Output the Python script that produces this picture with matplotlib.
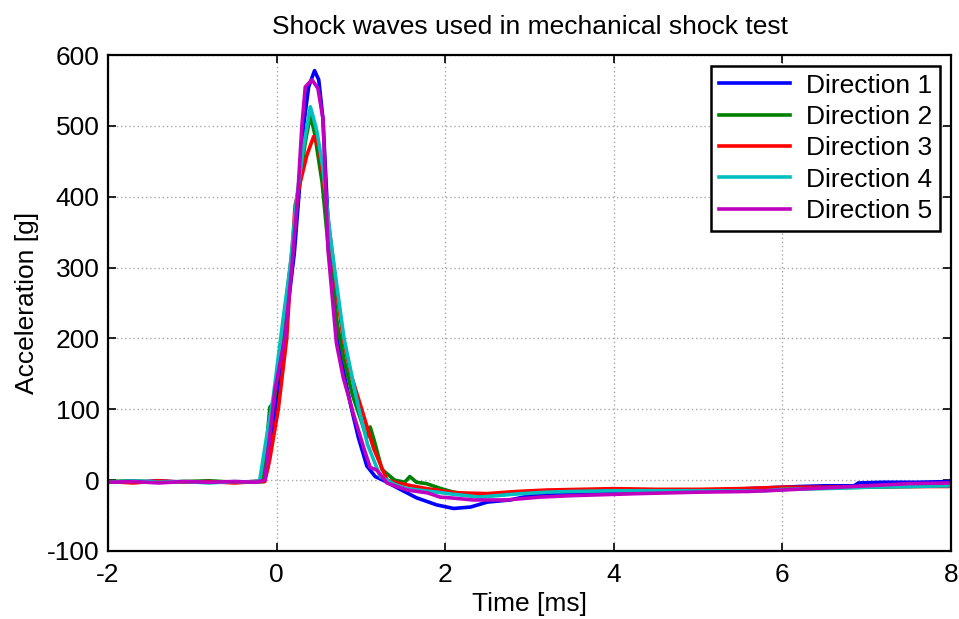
import matplotlib
matplotlib.use("Agg")
import matplotlib.pyplot as plt

plt.rcParams["font.family"] = ["Liberation Sans", "DejaVu Sans"]
plt.rcParams["axes.unicode_minus"] = False

# ---- data ------------------------------------------------------------------
t1 = [-2.0, -1.7, -1.4, -1.1, -0.8, -0.5, -0.25, -0.15, -0.1, -0.02, 0.06, 0.14,
      0.21, 0.27, 0.32, 0.38, 0.45, 0.5, 0.55, 0.63, 0.73, 0.8, 0.88, 0.97,
      1.07, 1.17, 1.26, 1.45, 1.66, 1.9, 2.1, 2.3, 2.5, 2.77, 3.0, 3.4, 3.8,
      4.2, 4.6, 5.0, 5.4, 5.8, 6.2, 6.5, 6.85, 6.9, 7.2, 7.6, 8.0]
v1 = [-2, -3, -1, -3, -2, -3, -2, -2, 20, 95, 175, 250, 320, 410, 500, 555,
      578, 565, 510, 317, 200, 150, 105, 60, 20, 5, 0, -12, -25, -35, -40,
      -38, -31, -28, -22, -19, -17, -17, -16, -15, -13, -11, -9, -8, -8, -4,
      -3, -3, -2]

t2 = [-2.0, -1.7, -1.4, -1.1, -0.8, -0.5, -0.25, -0.17, -0.12, -0.08, -0.03,
      0.05, 0.12, 0.2, 0.26, 0.34, 0.4, 0.45, 0.54, 0.62, 0.72, 0.8, 0.9, 1.0,
      1.07, 1.11, 1.16, 1.25, 1.4, 1.52, 1.58, 1.66, 1.78, 1.95, 2.1, 2.3,
      2.5, 2.8, 3.2, 3.6, 4.0, 4.5, 5.0, 5.5, 6.0, 6.5, 7.0, 7.5, 8.0]
v2 = [-2, -1, -3, -2, -1, -3, -2, -2, 50, 103, 110, 190, 260, 340, 410, 477,
      515, 490, 420, 320, 220, 170, 120, 85, 60, 75, 55, 15, 0, -3, 5, -3,
      -5, -12, -17, -20, -20, -18, -16, -14, -14, -15, -15, -14, -12, -11,
      -10, -9, -8]

t3 = [-2.0, -1.7, -1.4, -1.1, -0.8, -0.5, -0.25, -0.14, -0.08, 0.02, 0.12,
      0.18, 0.22, 0.28, 0.36, 0.44, 0.5, 0.56, 0.64, 0.72, 0.79, 0.88, 1.01,
      1.15, 1.31, 1.4, 1.6, 1.78, 2.14, 2.5, 2.85, 3.2, 3.6, 4.0, 4.5, 5.0,
      5.5, 6.0, 6.5, 7.0, 7.5, 8.0]
v3 = [-2, -4, -1, -3, -2, -4, -2, -2, 30, 100, 200, 317, 388, 420, 459, 485,
      470, 420, 340, 260, 200, 150, 100, 45, 0, -3, -8, -12, -18, -19, -16,
      -14, -13, -12, -13, -13, -12, -10, -10, -9, -9, -9]

t4 = [-2.0, -1.7, -1.4, -1.1, -0.8, -0.5, -0.25, -0.2, -0.12, -0.04, 0.08,
      0.16, 0.24, 0.32, 0.4, 0.44, 0.48, 0.55, 0.63, 0.71, 0.8, 0.87, 0.97,
      1.08, 1.23, 1.4, 1.54, 1.9, 2.1, 2.41, 2.8, 3.2, 3.5, 4.0, 4.5, 5.0,
      5.8, 6.0, 6.5, 7.0, 7.5, 8.0]
v4 = [-3, -1, -3, -2, -4, -2, -3, 0, 60, 117, 230, 300, 400, 470, 527, 510,
      491, 440, 350, 278, 200, 160, 103, 50, 5, -6, -12, -17, -20, -24, -20,
      -17, -16, -15, -15, -15, -15, -13, -12, -10, -9, -8]

t5 = [-2.0, -1.7, -1.4, -1.1, -0.8, -0.5, -0.25, -0.14, -0.02, 0.1, 0.18,
      0.25, 0.3, 0.34, 0.42, 0.49, 0.55, 0.61, 0.71, 0.79, 0.91, 1.03, 1.11,
      1.19, 1.31, 1.42, 1.55, 1.79, 1.94, 2.06, 2.33, 2.73, 3.12, 3.48, 4.3,
      5.0, 5.6, 6.0, 6.5, 7.0, 7.5, 8.0]
v5 = [-3, -2, -4, -2, -3, -2, -3, 0, 127, 202, 300, 400, 500, 555, 565, 553,
      510, 325, 193, 145, 94, 47, 18, 14, -4, -9, -14, -18, -24, -25, -28,
      -28, -24, -22, -19, -17, -16, -14, -11, -8, -5, -4]

labels = ["Direction 1", "Direction 2", "Direction 3", "Direction 4", "Direction 5"]
colors = ["#0000ff", "#008000", "#ff0000", "#00bfbf", "#bf00bf"]
series = [(t1, v1), (t2, v2), (t3, v3), (t4, v4), (t5, v5)]

xticks = [-2, 0, 2, 4, 6, 8]
yticks = [-100, 0, 100, 200, 300, 400, 500, 600]

# ---- figure ----------------------------------------------------------------
FS = 19
fig = plt.figure(figsize=(9.59, 6.19), dpi=100)
ax = fig.add_axes([0.1126, 0.1099, 0.8791, 0.8012])

for (t, v), lab, col in zip(series, labels, colors):
    ax.plot(t, v, color=col, linewidth=2.6, label=lab)

ax.set_xlim(-2, 8)
ax.set_ylim(-100, 600)
ax.set_xticks(xticks)
ax.set_yticks(yticks)
ax.grid(True, color="#a8a8a8", linestyle=(0, (1, 2)), linewidth=1.0)
ax.tick_params(direction="in", length=6, width=1.2, top=True, right=True,
               labelsize=FS, pad=6)
ax.tick_params(axis="x", pad=9)
for sp in ax.spines.values():
    sp.set_linewidth(1.6)

ax.set_title("Shock waves used in mechanical shock test", fontsize=FS, pad=15)
ax.set_xlabel("Time [ms]", fontsize=FS, labelpad=3)
ax.set_ylabel("Acceleration [g]", fontsize=FS, labelpad=6)

leg = ax.legend(loc="upper right", fontsize=FS, handlelength=2.7,
                borderaxespad=0.4, labelspacing=0.28, fancybox=False,
                framealpha=1, edgecolor="black", borderpad=0.3,
                handletextpad=0.6)
leg.get_frame().set_linewidth(1.8)

fig.savefig("out.png", dpi=100)
